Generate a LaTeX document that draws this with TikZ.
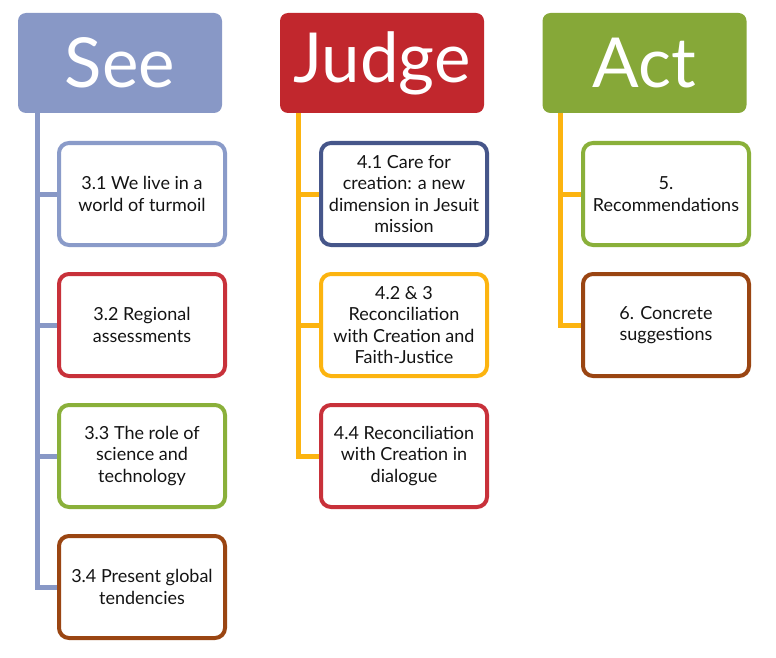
\documentclass[tikz,border=0pt]{standalone}
\usepackage{fontspec}
\setmainfont{Lato}
\usetikzlibrary{backgrounds}
\definecolor{seeblue}{HTML}{8898C6}
\definecolor{judgered}{HTML}{C1272D}
\definecolor{actgreen}{HTML}{86A838}
\definecolor{lineorange}{HTML}{FCB410}
\definecolor{bblue}{HTML}{8A9BC9}
\definecolor{bred}{HTML}{C8313A}
\definecolor{bgreen}{HTML}{8AB03A}
\definecolor{bbrown}{HTML}{9A4512}
\definecolor{bnavy}{HTML}{46568A}
\begin{document}
\begin{tikzpicture}[x=1pt,y=1pt,
  header/.style={fill=#1, draw=none, rounded corners=8pt, minimum width=204pt, minimum height=100pt,
     inner sep=0pt, text=white, font=\fontsize{69}{70}\selectfont},
  child/.style={draw=#1, line width=4pt, fill=white, rounded corners=10pt, minimum width=166pt,
     minimum height=102pt, inner sep=0pt, align=center, text=black!92,
     font=\fontsize{18}{21.3}\selectfont},
  trunk/.style={draw=#1, line width=5pt},
]
\useasboundingbox (0,0) rectangle (776,-658);
% headers
\node[header=seeblue] (see) at (120,-63) {See};
\node[header=judgered] (judge) at (382,-63) {Judge};
\node[header=actgreen] (act) at (644.5,-63) {Act};
% See children
\node[child=bblue] (s1) at (142,-194) {3.1 We live in a\\world of turmoil};
\node[child=bred] (s2) at (142,-325) {3.2 Regional\\assessments};
\node[child=bgreen] (s3) at (142,-456) {3.3 The role of\\science and\\technology};
\node[child=bbrown] (s4) at (142,-587) {3.4 Present global\\tendencies};
% Judge children
\node[child=bnavy] (j1) at (404,-194) {4.1 Care for\\creation: a new\\dimension in Jesuit\\mission};
\node[child=lineorange] (j2) at (404,-325) {4.2 \& 3\\Reconciliation\\with Creation and\\Faith-Justice};
\node[child=bred] (j3) at (404,-456) {4.4 Reconciliation\\with Creation in\\dialogue};
% Act children
\node[child=bgreen] (a1) at (666,-194) {5.\\Recommendations};
\node[child=bbrown] (a2) at (666,-325) {6. Concrete\\suggestions};
% trunks and connectors
\coordinate (sb) at (37,-113);
\coordinate (jb) at (298,-113);
\coordinate (ab) at (560,-113);
\begin{scope}[on background layer]
\draw[trunk=seeblue] (sb) |- (s4.west);
\draw[trunk=seeblue] (sb |- s1.west) -- (s1.west);
\draw[trunk=seeblue] (sb |- s2.west) -- (s2.west);
\draw[trunk=seeblue] (sb |- s3.west) -- (s3.west);
\draw[trunk=lineorange] (jb) |- (j3.west);
\draw[trunk=lineorange] (jb |- j1.west) -- (j1.west);
\draw[trunk=lineorange] (jb |- j2.west) -- (j2.west);
\draw[trunk=lineorange] (ab) |- (a2.west);
\draw[trunk=lineorange] (ab |- a1.west) -- (a1.west);
\end{scope}
\end{tikzpicture}
\end{document}
